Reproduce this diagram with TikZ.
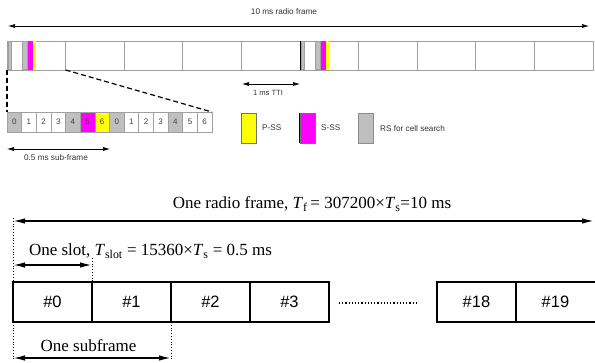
\documentclass[tikz,border=0pt]{standalone}
\usepackage{fontspec}
\setmainfont{Liberation Serif}
\setsansfont{Liberation Sans}
\usetikzlibrary{arrows.meta}
\definecolor{rsgray}{HTML}{BFBFBF}
\definecolor{edgegray}{HTML}{A0A0A0}
\definecolor{ssmag}{HTML}{FF00FF}
\definecolor{psyel}{HTML}{FFFF00}
\begin{document}
\begin{tikzpicture}[x=1pt,y=-1pt,
  sfbox/.style={draw=edgegray, line width=0.7pt, minimum width=58.6pt, minimum height=29pt, inner sep=0pt, outer sep=0pt, anchor=north west},
  symbox/.style={draw=edgegray, line width=0.6pt, minimum width=14.64pt, minimum height=20pt, inner sep=0pt, outer sep=0pt, anchor=north west, font=\sffamily\fontsize{8}{9}\selectfont, text=black!75},
  legbox/.style={draw=black!55, line width=0.6pt, minimum width=15pt, minimum height=30pt, inner sep=0pt},
  smalltxt/.style={font=\sffamily\fontsize{8.2}{9}\selectfont, text=black!80, inner sep=0pt},
  bigtxt/.style={font=\fontsize{17}{19}\selectfont, inner sep=0pt, anchor=base},
  slotbox/.style={draw=black, line width=1.4pt, minimum width=79pt, minimum height=40pt, inner sep=0pt, outer sep=0pt, font=\sffamily\fontsize{16.5}{18}\selectfont},
  smallarr/.style={{Latex[length=7pt,width=4pt]}-{Latex[length=7pt,width=4pt]}, line width=0.6pt},
  bigarr/.style={{Latex[length=12pt,width=5.5pt]}-{Latex[length=12pt,width=5.5pt]}, line width=1.5pt},
  guide/.style={dotted, line width=0.8pt}
]
\useasboundingbox (0,0) rectangle (595,363);

% ---------- top: 10 ms radio frame ----------
\node[smalltxt] (rflabel) at (284,12) {10 ms radio frame};
\coordinate (rfL) at (8,26);
\coordinate (rfR) at (589,26);
\draw[smallarr] (rfL) -- (rfR);

\foreach \i in {0,...,9} {
  \node[sfbox] (sf\i) at ({7+58.6*\i},41) {};
}
% synchronisation symbols in subframes 0 and 5
\foreach \s/\o in {0/7,5/300} {
  \fill[rsgray, draw=edgegray, line width=0.5pt] ({\o+0.8},41.4) rectangle ({\o+3.8},69.6);
  \fill[rsgray, draw=edgegray, line width=0.5pt] ({\o+15.5},41.4) rectangle ({\o+20.5},69.6);
  \fill[ssmag] ({\o+20.5},41.4) rectangle ({\o+25.5},69.6);
  \fill[psyel] ({\o+25.5},41.4) rectangle ({\o+28.5},69.6);
}
\draw[black, line width=0.5pt] (sf5.north west) -- (sf5.south west);

% 1 ms TTI
\coordinate (ttiL) at (242,84);
\coordinate (ttiR) at (300,84);
\draw[smallarr] (ttiL) -- (ttiR);
\node[smalltxt, font=\sffamily\fontsize{7.6}{9}\selectfont] (ttilabel) at (268,92.5) {1 ms TTI};

% ---------- detail of subframe ----------
\foreach \i/\lab/\col in {0/0/rsgray,1/1/white,2/2/white,3/3/white,4/4/rsgray,5/5/ssmag,6/6/psyel,
                          7/0/rsgray,8/1/white,9/2/white,10/3/white,11/4/rsgray,12/5/white,13/6/white} {
  \node[symbox, fill=\col] (d\i) at ({7+14.64*\i},112) {\lab};
}
\draw[dashed, dash pattern=on 5pt off 3pt, line width=1.2pt] (sf0.south west) -- (d0.north west);
\draw[dashed, dash pattern=on 5pt off 3pt, line width=1.2pt] (sf0.south east) -- (d13.north east);

% 0.5 ms sub-frame
\coordinate (hsL) at (7,149);
\coordinate (hsR) at (110,149);
\draw[smallarr] (hsL) -- (hsR);
\node[smalltxt] (hslabel) at (56,157.5) {0.5 ms sub-frame};

% legend
\node[legbox, fill=psyel] (lgp) at (248.5,128) {};
\node[smalltxt, anchor=west] (lgptxt) at (262,127.5) {P-SS};
\node[legbox, fill=ssmag] (lgs) at (307.5,128) {};
\draw[black, line width=0.8pt] (lgs.north west) -- (lgs.south west);
\node[smalltxt, anchor=west] (lgstxt) at (321,127.5) {S-SS};
\node[legbox, fill=rsgray, draw=black!45] (lgr) at (366,128) {};
\node[smalltxt, anchor=west] (lgrtxt) at (380,128.5) {RS for cell search};

% ---------- bottom: frame structure ----------
\node[bigtxt] (frlabel) at (312,209) {One radio frame, \textit{T}\textsubscript{f}\,= 307200×\textit{T}\textsubscript{s}=10 ms};
\coordinate (frL) at (13,221);
\coordinate (frR) at (594,221);
\draw[bigarr] (frL) -- (frR);

\node[bigtxt] (sllabel) at (150.5,256) {One slot, \textit{T}\textsubscript{slot} = 15360×\textit{T}\textsubscript{s} = 0.5 ms};
\coordinate (slL) at (13,265);
\coordinate (slR) at (92,265);
\draw[bigarr] (slL) -- (slR);

\node[slotbox] (b0) at (52.5,302) {\#0};
\node[slotbox] (b1) at (131.5,302) {\#1};
\node[slotbox] (b2) at (210.5,302) {\#2};
\node[slotbox] (b3) at (289.5,302) {\#3};
\node[slotbox] (b18) at (476.5,302) {\#18};
\node[slotbox, minimum width=84pt] (b19) at (558,302) {\hspace*{-5pt}\#19};

\draw[dotted, line width=1.2pt] (339,303) -- (418,303);

\coordinate (gtop) at (13,218);
\coordinate (gbot) at (13,361);
\draw[guide] (gtop) -- (b0.north west);
\draw[guide] (b0.south west) -- (gbot);
\coordinate (g1top) at (92,258);
\draw[guide] (g1top) -- (b1.north west);
\coordinate (g2bot) at (171,361);
\draw[guide] (b2.south west) -- (g2bot);

\node[bigtxt] (sflabel) at (88.5,352) {One subframe};
\coordinate (sfL) at (13,358);
\coordinate (sfR) at (171,358);
\draw[bigarr] (sfL) -- (sfR);
\end{tikzpicture}
\end{document}
